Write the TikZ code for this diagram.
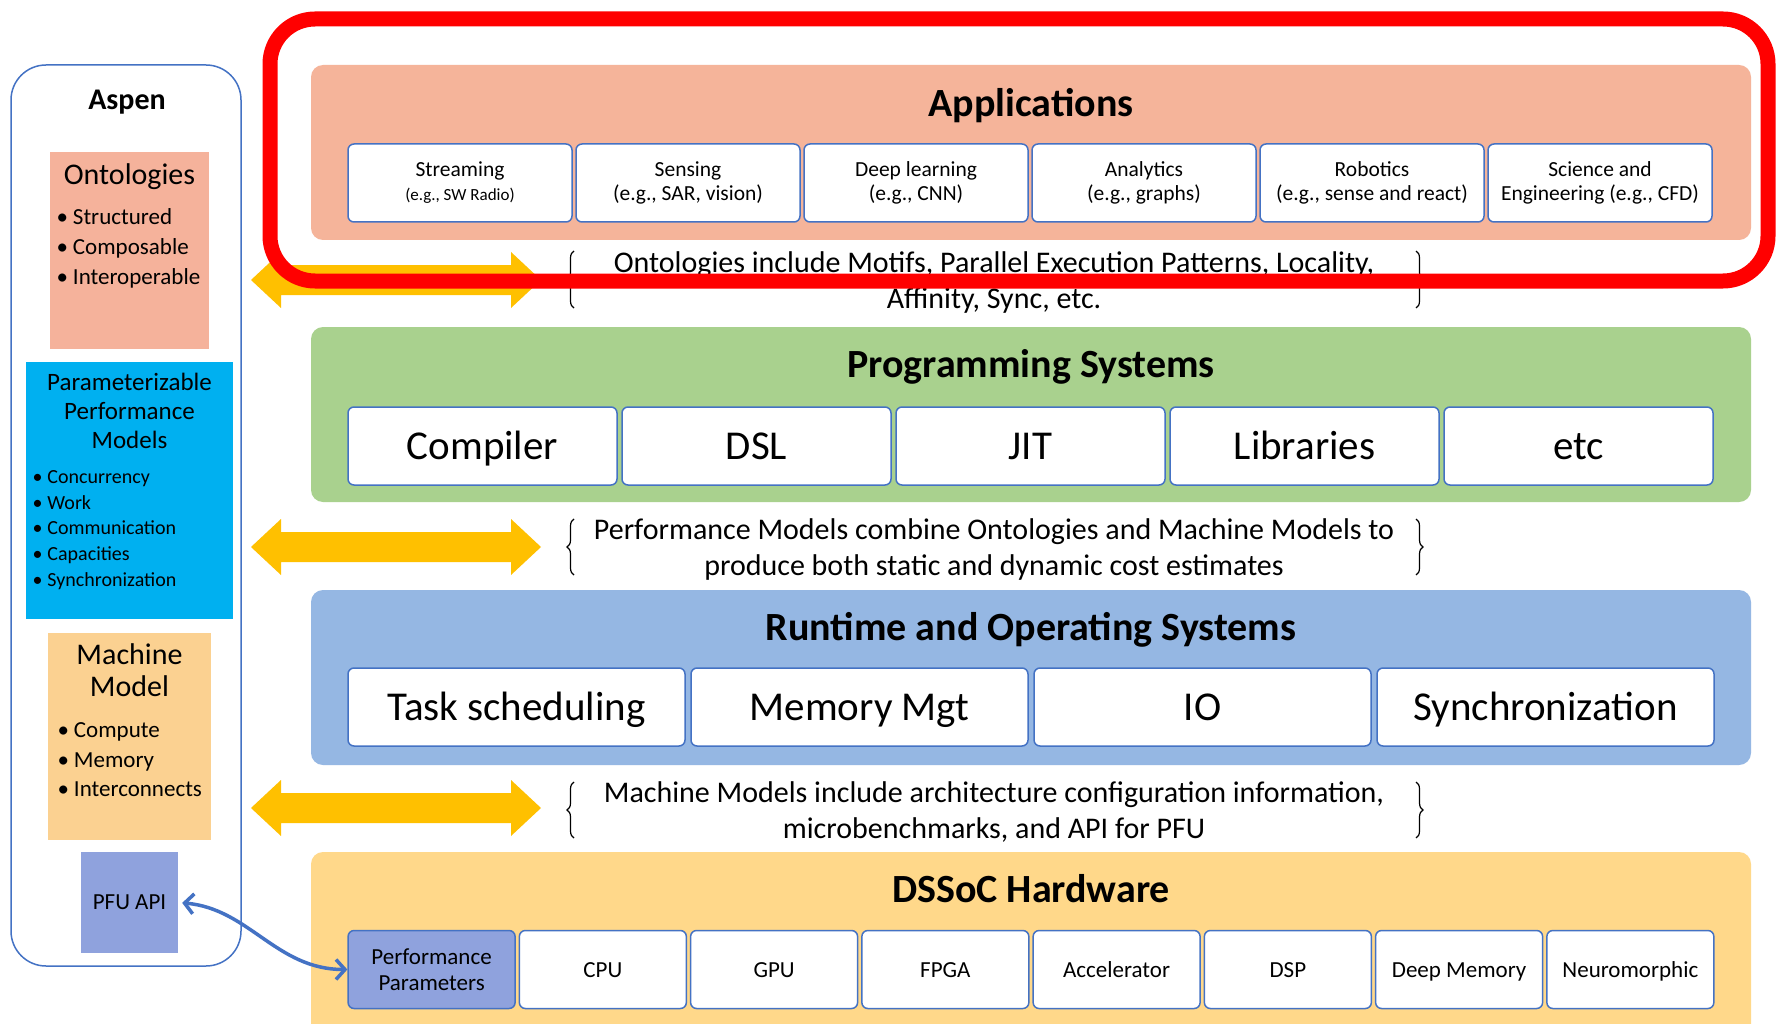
\documentclass[tikz,border=0pt]{standalone}
\usepackage{fontspec}
\setmainfont{Carlito}
\usetikzlibrary{arrows.meta,decorations.pathreplacing,positioning}

\definecolor{appfill}{HTML}{F5B49A}
\definecolor{progfill}{HTML}{A9D18E}
\definecolor{rtfill}{HTML}{95B7E3}
\definecolor{hwfill}{HTML}{FFD88A}
\definecolor{ontofill}{HTML}{F5B29B}
\definecolor{perffill}{HTML}{00B0F0}
\definecolor{machfill}{HTML}{FBD191}
\definecolor{pfufill}{HTML}{8FA2DD}
\definecolor{boxline}{HTML}{4472C4}
\definecolor{goldfill}{HTML}{FFC000}
\definecolor{framered}{HTML}{FF0000}

\newcommand{\fsz}[2]{\fontsize{#1}{#2}\selectfont}
\newcommand{\itm}{\textbullet\hspace{5pt}}

\begin{document}
\begin{tikzpicture}[x=1pt,y=-1pt,
    layer/.style={rounded corners=12, inner sep=0, minimum width=1440},
    ltitle/.style={font=\bfseries\fsz{40}{48}},
    subbox/.style={draw=boxline, line width=1.5, fill=white, rounded corners=6,
      inner sep=0, align=center, minimum height=78},
    oneline/.style={text height=#1, text depth=1pt},
    sidebox/.style={inner sep=0},
    bracetext/.style={align=center, font=\fsz{30}{36}},
    bracer/.style={decorate, decoration={brace, amplitude=7}, line width=1.2},
    goldarrow/.style={fill=goldfill},
    pfulink/.style={draw=boxline, line width=3.5, shorten <=4,
      {Straight Barb[length=9pt,width=20pt]}-{Straight Barb[length=9pt,width=20pt]}},
    redframe/.style={draw=framered, line width=15, rounded corners=45}]
  \clip (0,0) rectangle (1776,1024);
  \fill[white] (0,0) rectangle (1776,1024);

  % Aspen column
  \node[draw=boxline, line width=1.5, rounded corners=35, minimum width=230,
    minimum height=901] (aspen) at (126,515.5) {};
  \node[font=\bfseries\fsz{30}{36}] (aspentitle) at (127,102) {Aspen};

  \node[sidebox, fill=ontofill, minimum width=159, minimum height=197] (onto) at (129.5,250.5) {};
  \node[font=\fsz{30}{36}] (ontotitle) at (129.5,177) {Ontologies};
  \node[anchor=west, align=left, font=\fsz{23}{30}] (ontolist) at (53,248)
    {\itm Structured\\\itm Composable\\\itm Interoperable};

  \node[sidebox, fill=perffill, minimum width=207, minimum height=257] (perf) at (129.5,490.5) {};
  \node[align=center, font=\fsz{25}{29}] (perftitle) at (129.5,411)
    {Parameterizable\\Performance\\Models};
  \node[anchor=west, align=left, font=\fsz{20}{25.8}] (perflist) at (29,530)
    {\itm Concurrency\\\itm Work\\\itm Communication\\\itm Capacities\\\itm Synchronization};

  \node[sidebox, fill=machfill, minimum width=163, minimum height=207] (mach) at (129.5,736.5) {};
  \node[align=center, font=\fsz{30}{32}] (machtitle) at (129.5,670) {Machine\\Model};
  \node[anchor=west, align=left, font=\fsz{23}{29.5}] (machlist) at (54,760)
    {\itm Compute\\\itm Memory\\\itm Interconnects};

  \node[sidebox, fill=pfufill, minimum width=97, minimum height=101,
    font=\fsz{23}{28}] (pfu) at (129.5,902.5) {PFU API};

  % layers
  \node[layer, fill=appfill, minimum height=175] (apps) at (1031,152.5) {};
  \node[ltitle] (appstitle) at (1031,106) {Applications};
  \foreach \t [count=\i from 0] in {{Streaming\\{\fsz{17}{20}(e.g., SW Radio)}},
      {Sensing\\(e.g., SAR, vision)}, {Deep learning\\(e.g., CNN)},
      {Analytics\\(e.g., graphs)}, {Robotics\\(e.g., sense and react)},
      {Science and\\Engineering (e.g., CFD)}}
    \node[subbox, minimum width=224, font=\fsz{21.5}{24}] (app\i) at ({460+228*\i},183) {\t};

  \node[layer, fill=progfill, minimum height=175] (prog) at (1031,414.5) {};
  \node[ltitle] (progtitle) at (1031,367) {Programming Systems};
  \foreach \t [count=\i from 0] in {Compiler, DSL, JIT, Libraries, etc}
    \node[subbox, oneline=27pt, minimum width=269, font=\fsz{41}{48}] (prog\i) at ({482.5+274*\i},446) {\t};

  \node[layer, fill=rtfill, minimum height=175] (rt) at (1031,677.5) {};
  \node[ltitle] (rttitle) at (1031,630) {Runtime and Operating Systems};
  \foreach \t [count=\i from 0] in {Task scheduling, Memory Mgt, IO, Synchronization}
    \node[subbox, oneline=27pt, minimum width=337, font=\fsz{41}{48}] (rt\i) at ({516.5+343*\i},707) {\t};

  \node[layer, fill=hwfill, minimum height=198] (hw) at (1031,951) {};
  \node[ltitle] (hwtitle) at (1031,889) {DSSoC Hardware};
  \node[subbox, fill=pfufill, minimum width=167, font=\fsz{23}{26}] (perfpar) at (431.6,969.5)
    {Performance\\Parameters};
  \foreach \t [count=\i] in {CPU, GPU, FPGA, Accelerator, DSP, Deep Memory, Neuromorphic}
    \node[subbox, oneline=16pt, minimum width=167, font=\fsz{23}{26}] (hw\i) at ({431.6+171.25*\i},969.5) {\t};

  % notes between layers
  \node[bracetext] (note1) at (994,283)
    {Ontologies include Motifs, Parallel Execution Patterns, Locality,\\Affinity, Sync, etc.};
  \node[bracetext] (note2) at (994,549)
    {Performance Models combine Ontologies and Machine Models to\\produce both static and dynamic cost estimates};
  \node[bracetext] (note3) at (994,812)
    {Machine Models include architecture configuration information,\\microbenchmarks, and API for PFU};
  \foreach \yt/\yb in {251/308, 519/575, 782/838} {
    \draw[bracer] (574,\yb) -- (574,\yt);
    \draw[bracer] (1416,\yt) -- (1416,\yb);
  }

  % gold double arrows
  \foreach \ya in {280, 547, 808}
    \fill[goldarrow] (251,\ya) -- (281,{\ya-28}) -- (281,{\ya-15}) -- (511,{\ya-15})
      -- (511,{\ya-28}) -- (541,\ya) -- (511,{\ya+28}) -- (511,{\ya+15})
      -- (281,{\ya+15}) -- (281,{\ya+28}) -- cycle;

  % PFU API link
  \draw[pfulink] (pfu.east) to[out=-5,in=180] (perfpar.west);

  % highlight frame
  \draw[redframe] (270,19) rectangle (1768,281);
\end{tikzpicture}
\end{document}
